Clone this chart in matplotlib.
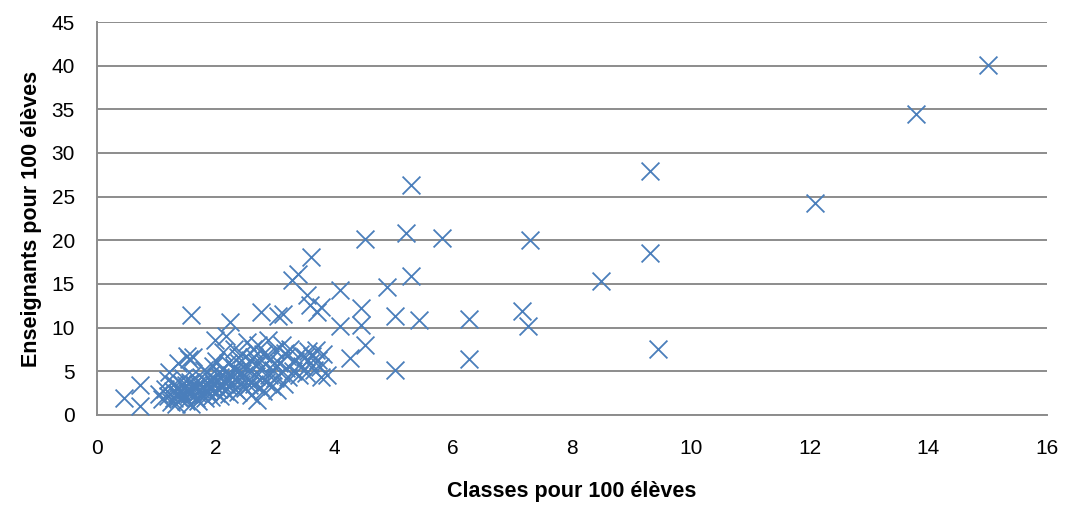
import matplotlib.pyplot as plt

# Classes pour 100 eleves (x) / Enseignants pour 100 eleves (y)
classes = [
    15.0, 13.8, 12.1, 9.31, 9.31, 9.44, 8.48, 7.29, 7.26, 7.16, 6.26, 6.26,
    5.81, 5.28, 5.21, 5.28, 5.42, 5.02, 5.02, 4.51, 4.45, 4.45, 4.51, 4.26,
    4.89, 4.09, 4.09,
    0.45, 0.72, 0.72, 1.2, 1.37, 1.51,
    1.05, 1.1, 1.15, 1.2, 1.22, 1.25, 1.28, 1.3, 1.3,
    1.33, 1.35, 1.38, 1.4, 1.42, 1.45, 1.47, 1.5, 1.5, 1.52, 1.55, 1.55,
    1.57, 1.58, 1.6, 1.6, 1.62, 1.59,
    1.65, 1.67, 1.7, 1.7, 1.72, 1.75, 1.77, 1.8, 1.8, 1.82, 1.85, 1.87,
    1.9, 1.9, 1.92, 1.95, 1.97, 2.0, 2.0, 2.0, 1.99,
    2.03, 2.05, 2.07, 2.1, 2.1, 2.12, 2.15, 2.17, 2.18, 2.2, 2.2, 2.22,
    2.24, 2.25, 2.27, 2.3, 2.3, 2.32, 2.35, 2.37, 2.38, 2.4, 2.4,
    2.42, 2.45, 2.47, 2.5, 2.5, 2.52, 2.55, 2.57, 2.6, 2.6, 2.62, 2.65,
    2.67, 2.69, 2.7, 2.72, 2.74, 2.75, 2.77, 2.78, 2.8, 2.8,
    2.83, 2.85, 2.88, 2.9, 2.92, 2.95, 2.97, 3.0, 3.0, 3.03, 3.05, 3.07,
    3.1, 3.12, 3.14, 3.15, 3.18, 3.2, 3.22, 3.25, 3.28, 3.3,
    3.33, 3.38, 3.4, 3.42, 3.45, 3.5, 3.52, 3.55, 3.58, 3.59, 3.53, 3.61,
    3.62, 3.65, 3.68, 3.7, 3.72, 3.75, 3.78, 3.78, 3.8, 3.87,
    1.36, 1.44, 1.53, 1.63, 1.68, 1.74, 1.84, 1.93, 2.08, 2.14, 2.28, 2.33,
    2.44, 2.56, 2.64, 2.86, 2.98, 3.16,
]
enseignants = [
    40.1, 34.5, 24.3, 27.9, 18.6, 7.6, 15.3, 20.0, 10.2, 11.9, 11.0, 6.4,
    20.3, 26.3, 20.8, 15.9, 10.9, 11.3, 5.1, 20.2, 12.2, 10.3, 8.0, 6.5,
    14.7, 14.3, 10.2,
    2.0, 3.4, 1.0, 4.0, 5.9, 6.8,
    2.4, 1.8, 3.0, 2.2, 4.9, 1.5, 2.8, 3.5, 2.0,
    1.3, 2.5, 3.1, 1.9, 2.7, 4.2, 2.2, 3.4, 1.6, 2.9, 6.4, 2.4,
    3.8, 1.3, 2.6, 4.6, 6.6, 11.4,
    3.1, 2.0, 3.6, 1.6, 2.8, 4.3, 2.3, 3.2, 5.2, 1.9, 3.8, 2.6,
    4.6, 3.0, 2.1, 5.6, 3.4, 2.5, 4.0, 6.2, 8.6,
    3.0, 4.8, 2.2, 3.6, 5.3, 7.2, 2.8, 4.2, 9.0, 3.3, 6.0, 2.4,
    10.7, 4.6, 3.8, 5.5, 7.5, 3.0, 4.9, 6.6, 2.6, 4.1, 5.9,
    3.5, 7.0, 4.6, 5.4, 3.1, 8.4, 4.0, 6.3, 2.3, 5.0, 7.6, 3.6,
    4.5, 1.7, 6.0, 8.0, 3.2, 5.3, 11.8, 4.2, 7.0, 2.8,
    5.8, 3.8, 8.6, 4.6, 6.4, 3.3, 5.1, 7.4, 4.2, 2.9, 11.3, 6.0,
    4.8, 8.0, 11.6, 3.6, 5.4, 6.8, 4.4, 7.6, 15.5, 5.0,
    6.2, 16.1, 4.6, 7.0, 5.6, 6.6, 4.8, 7.3, 5.9, 12.6, 13.7, 18.1,
    6.8, 5.2, 7.4, 11.8, 6.3, 5.5, 12.4, 4.4, 7.0, 4.6,
    2.1, 3.6, 2.6, 3.5, 2.5, 3.0, 2.9, 3.9, 4.4, 3.9, 4.3, 5.1,
    4.8, 3.4, 6.6, 6.9, 6.0, 7.1,
]

x_ticks = [0, 2, 4, 6, 8, 10, 12, 14, 16]
y_ticks = [0, 5, 10, 15, 20, 25, 30, 35, 40, 45]

plt.rcParams['font.family'] = ['Liberation Sans', 'DejaVu Sans']

fig = plt.figure(figsize=(10.67, 5.07), dpi=100)
ax = fig.add_axes([0.0909, 0.1815, 0.8904, 0.7751])

ax.scatter(classes, enseignants, marker='x', s=165, color='#4a7ebb',
           linewidths=1.3, zorder=3, clip_on=False)

ax.set_xlim(0, 16)
ax.set_ylim(0, 45)
ax.set_xticks(x_ticks)
ax.set_yticks(y_ticks)
ax.tick_params(axis='both', length=0, labelsize=15)
ax.tick_params(axis='x', pad=17)
ax.tick_params(axis='y', pad=16)

ax.yaxis.grid(True, color='#8c8c8c', linewidth=1.4)
ax.set_axisbelow(True)
for side in ['top', 'right']:
    ax.spines[side].set_visible(False)
for side in ['left', 'bottom']:
    ax.spines[side].set_color('#8c8c8c')
    ax.spines[side].set_linewidth(1.4)

ax.set_xlabel('Classes pour 100 élèves', fontsize=15.5, fontweight='bold', labelpad=17)
ax.set_ylabel('Enseignants pour 100 élèves', fontsize=15.5, fontweight='bold', labelpad=7)

fig.savefig('out.png', dpi=100)
